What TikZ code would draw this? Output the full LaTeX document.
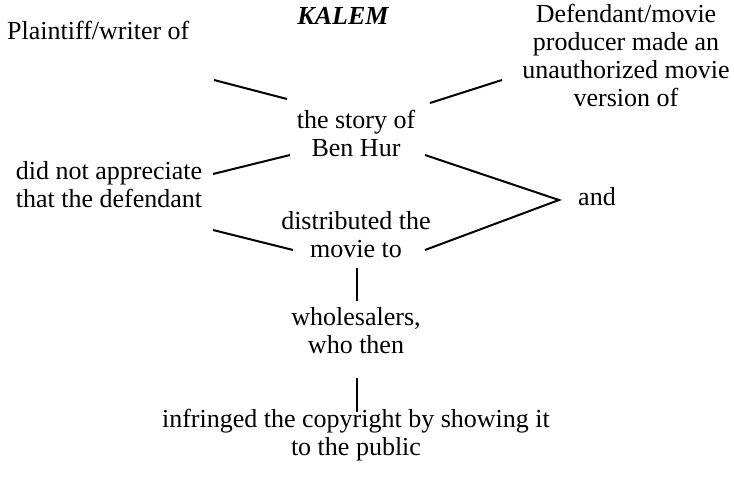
\documentclass[tikz,border=0pt]{standalone}
\usepackage{fontspec}
\setmainfont{Liberation Serif}
\begin{document}
\begin{tikzpicture}[x=1pt,y=-1pt,
  txt/.style={inner sep=0pt, align=center, font=\fontsize{26}{28}\selectfont},
  conn/.style={line width=2pt}]
\useasboundingbox (0,0) rectangle (734,477);
\node[txt, font=\fontsize{26}{28}\selectfont\bfseries\itshape] (kalem) at (343,16) {KALEM};
\node[txt, anchor=west] (plaintiff) at (7,30) {Plaintiff/writer of};
\node[txt] (defendant) at (626,55) {Defendant/movie\\producer made an\\unauthorized movie\\version of};
\node[txt] (story) at (356,133) {the story of\\Ben Hur};
\node[txt] (appreciate) at (109,185) {did not appreciate\\that the defendant};
\node[txt] (and) at (597,197) {and};
\node[txt] (distributed) at (356,235) {distributed the\\movie to};
\node[txt] (wholesalers) at (356,331) {wholesalers,\\who then};
\node[txt] (infringed) at (356,435) {infringed the copyright by showing it\\to the public};
% connector end points
\coordinate (p1) at (214,80);  \coordinate (p2) at (287,99);
\coordinate (d1) at (430,103); \coordinate (d2) at (502,80);
\coordinate (a1) at (213,174); \coordinate (a2) at (290,155);
\coordinate (b1) at (425,155); \coordinate (v) at (559,200);
\coordinate (m1) at (425,250);
\coordinate (l1) at (213,230); \coordinate (l2) at (293,250);
\coordinate (w1) at (357,268); \coordinate (w2) at (357,301);
\coordinate (i1) at (357,378); \coordinate (i2) at (357,412);
\draw[conn] (p1) -- (p2);
\draw[conn] (d1) -- (d2);
\draw[conn] (a1) -- (a2);
\draw[conn] (b1) -- (v) -- (m1);
\draw[conn] (l1) -- (l2);
\draw[conn] (w1) -- (w2);
\draw[conn] (i1) -- (i2);
\end{tikzpicture}
\end{document}
